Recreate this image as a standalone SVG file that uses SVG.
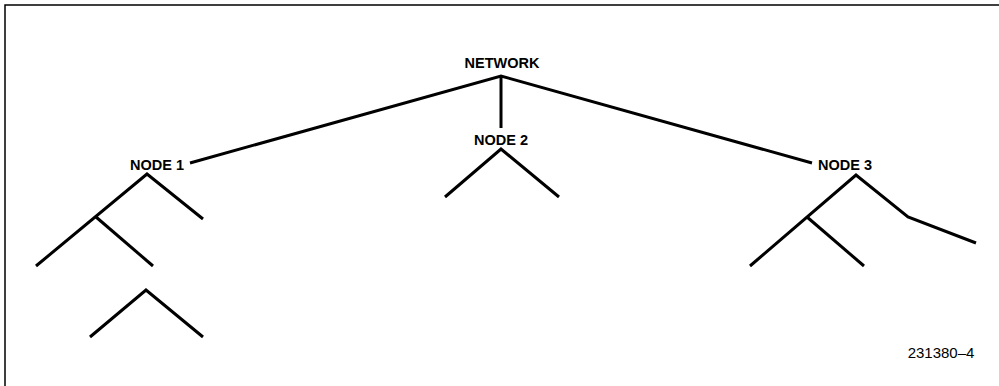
<svg xmlns="http://www.w3.org/2000/svg" width="999" height="386" viewBox="0 0 999 386">
<style>
.frame{fill:none;stroke:#000;stroke-width:1.5}
.ln{fill:none;stroke:#000;stroke-width:3;stroke-linejoin:miter;stroke-linecap:butt}
.lbl{font-family:"Liberation Sans",Arial,sans-serif;font-weight:bold;font-size:14.5px;fill:#000;text-anchor:middle}
.ref{font-family:"Liberation Sans",Arial,sans-serif;font-size:15px;fill:#000;text-anchor:middle}
</style>
<rect width="999" height="386" fill="#fff"/>
<path class="frame" d="M5,386 V5 H999"/>
<g id="connectors">
<path class="ln" d="M190,163 L501,76 L812,163"/>
<path class="ln" d="M501,76 V128"/>
</g>
<g id="network"><text class="lbl" x="502" y="68">NETWORK</text></g>
<g id="node2">
<text class="lbl" x="501" y="145">NODE 2</text>
<path class="ln" d="M445,197 L501,149 L559,197"/>
</g>
<g id="node1">
<text class="lbl" x="157" y="170">NODE 1</text>
<path class="ln" d="M36,266 L147,174 L203,219"/>
<path class="ln" d="M96,217 L153,266"/>
</g>
<g id="node1-sub">
<path class="ln" d="M90,337 L146,290 L203,337"/>
</g>
<g id="node3">
<text class="lbl" x="845" y="170">NODE 3</text>
<path class="ln" d="M750,266 L856,175 L908,217 L976,243"/>
<path class="ln" d="M807,217 L864,266"/>
</g>
<g id="figref"><text class="ref" x="941" y="358">231380–4</text></g>
</svg>
